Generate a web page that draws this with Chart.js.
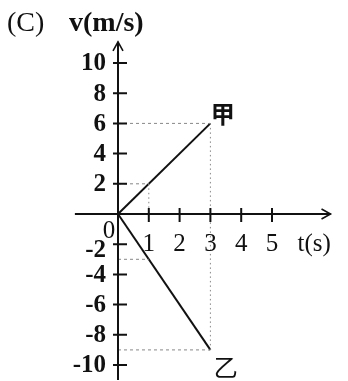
<!DOCTYPE html>
<html>
<head>
<meta charset="utf-8">
<script src="https://cdn.jsdelivr.net/npm/chart.js@4.4.1/dist/chart.umd.min.js"></script>
<style>
  html, body { margin: 0; padding: 0; background: #fff; }
  #wrap { width: 348px; height: 381px; position: relative; }
</style>
</head>
<body>
<div id="wrap"><canvas id="c"></canvas></div>
<script>
// v-t data for the two objects
const jiaT = [0, 3];
const jiaV = [0, 6];
const yiT = [0, 3];
const yiV = [0, -9];

// tick labels
const xTicks = [1, 2, 3, 4, 5];
const yTicks = [10, 8, 6, 4, 2, -2, -4, -6, -8, -10];

// helper guide lines [t1, v1, t2, v2]
const dashedGuides = [[0, 6, 3, 6], [0, 2, 1, 2], [0, -3, 1, -3], [0, -9, 3, -9]];
const dottedGuides = [[3, 6, 3, -9], [1, 2, 1, 0]];

const FONT = "'Liberation Serif', 'DejaVu Serif', serif";
const INK = "#111";

const toPts = (ts, vs) => ts.map((t, i) => ({ x: t, y: vs[i] }));

const guideSets = [
  ...dashedGuides.map((g) => ({
    data: [{ x: g[0], y: g[1] }, { x: g[2], y: g[3] }],
    borderColor: "#888", borderWidth: 1, borderDash: [3, 3],
  })),
  ...dottedGuides.map((g) => ({
    data: [{ x: g[0], y: g[1] }, { x: g[2], y: g[3] }],
    borderColor: "#888", borderWidth: 1, borderDash: [1.5, 3],
  })),
];

// axes, ticks, arrows and labels drawn from the scales
const axesPlugin = {
  id: "axes",
  afterDatasetsDraw(chart) {
    const { ctx } = chart;
    const xs = chart.scales.x;
    const ys = chart.scales.y;
    const x0 = xs.getPixelForValue(0);
    const y0 = ys.getPixelForValue(0);
    ctx.save();
    ctx.strokeStyle = INK;
    ctx.fillStyle = INK;
    ctx.lineWidth = 2;

    // axis lines
    const yTop = ys.getPixelForValue(11.4);
    const yBot = ys.getPixelForValue(-11);
    const xLeft = xs.getPixelForValue(-1.4);
    const xRight = xs.getPixelForValue(6.9);
    ctx.beginPath();
    ctx.moveTo(x0, yBot); ctx.lineTo(x0, yTop);
    ctx.moveTo(xLeft, y0); ctx.lineTo(xRight, y0);
    ctx.stroke();

    // arrows
    ctx.lineWidth = 1.6;
    ctx.beginPath();
    ctx.moveTo(x0 - 5, yTop + 9); ctx.lineTo(x0, yTop); ctx.lineTo(x0 + 5, yTop + 9);
    ctx.moveTo(xRight - 9, y0 - 5); ctx.lineTo(xRight, y0); ctx.lineTo(xRight - 9, y0 + 5);
    ctx.stroke();

    // ticks
    ctx.lineWidth = 2;
    ctx.beginPath();
    yTicks.forEach((v) => {
      const py = ys.getPixelForValue(v);
      ctx.moveTo(x0 - 5, py); ctx.lineTo(x0 + 9, py);
    });
    xTicks.forEach((t) => {
      const px = xs.getPixelForValue(t);
      ctx.moveTo(px, y0 - 6); ctx.lineTo(px, y0 + 8);
    });
    ctx.stroke();

    // y tick labels
    ctx.font = "bold 25px " + FONT;
    ctx.textAlign = "right";
    ctx.textBaseline = "middle";
    yTicks.forEach((v) => {
      const py = ys.getPixelForValue(v) + (v === -2 ? 6 : 1);
      ctx.fillText(String(v), x0 - 12, py);
    });

    // x tick labels
    ctx.font = "25px " + FONT;
    ctx.textAlign = "center";
    xTicks.forEach((t) => {
      ctx.fillText(String(t), xs.getPixelForValue(t), y0 + 30);
    });
    ctx.fillText("0", x0 - 9, y0 + 17);

    // axis titles
    ctx.textAlign = "left";
    ctx.fillText("t(s)", xRight - 33, y0 + 30);
    ctx.font = "bold 28px " + FONT;
    ctx.fillText("v(m/s)", x0 - 49, 24);
    ctx.font = "28px " + FONT;
    ctx.fillText("(C)", 7, 24);

    // series labels
    ctx.font = "bold 24px 'Noto Sans CJK SC', sans-serif";
    ctx.textAlign = "center";
    ctx.fillText("甲", xs.getPixelForValue(3.4), ys.getPixelForValue(6.6));
    ctx.font = "24px 'Noto Sans CJK SC', sans-serif";
    ctx.fillText("乙", xs.getPixelForValue(3.5), ys.getPixelForValue(-10.1));
    ctx.restore();
  },
};

new Chart(document.getElementById("c"), {
  type: "scatter",
  data: {
    datasets: [
      ...guideSets,
      { label: "甲", data: toPts(jiaT, jiaV), borderColor: INK, borderWidth: 2 },
      { label: "乙", data: toPts(yiT, yiV), borderColor: INK, borderWidth: 2 },
    ].map((d) => ({ showLine: true, pointRadius: 0, fill: false, ...d })),
  },
  options: {
    responsive: true,
    maintainAspectRatio: false,
    animation: false,
    layout: { padding: { left: 10.2, right: 29.8, top: 32.8, bottom: 0.9 } },
    plugins: { legend: { display: false }, tooltip: { enabled: false } },
    scales: {
      x: { type: "linear", min: -3.5, max: 6.5, display: false },
      y: { type: "linear", min: -11, max: 12, display: false },
    },
  },
  plugins: [axesPlugin],
});
</script>
</body>
</html>
